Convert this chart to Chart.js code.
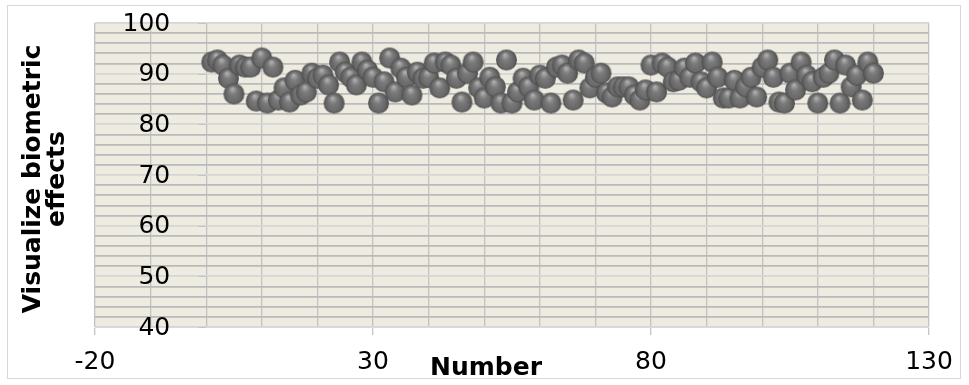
<!DOCTYPE html>
<html>
<head>
<meta charset="utf-8">
<script src="https://cdn.jsdelivr.net/npm/chart.js@4.4.0/dist/chart.umd.min.js"></script>
<style>
  body { margin: 0; background: #fff; }
  #wrap { width: 969px; height: 385px; }
</style>
</head>
<body>
<div id="wrap"><canvas id="effectsChart" width="969" height="385"></canvas></div>
<script>
// values, one per Number (1..120)
const effectValues = [
  92.3, 92.7, 91.7, 89.1, 86.0, 91.7, 91.3, 91.3, 84.6, 93.1,
  84.2, 91.3, 84.8, 87.2, 84.4, 88.7, 85.8, 86.4, 90.1, 89.1,
  89.7, 87.8, 84.2, 92.3, 90.3, 89.3, 87.8, 92.3, 90.7, 89.3,
  84.2, 88.4, 93.1, 86.4, 91.1, 89.3, 85.8, 90.3, 89.1, 89.3,
  92.1, 87.2, 92.3, 91.7, 89.1, 84.4, 90.1, 92.3, 87.2, 85.2,
  89.3, 87.4, 84.2, 92.7, 84.2, 86.4, 89.1, 87.4, 84.8, 89.7,
  89.1, 84.2, 91.3, 91.7, 90.1, 84.8, 92.7, 92.1, 87.2, 89.3,
  90.1, 86.2, 85.4, 87.4, 87.4, 87.4, 85.8, 84.8, 86.8, 91.7,
  86.4, 92.1, 91.3, 88.4, 88.7, 91.1, 89.3, 92.1, 88.4, 87.2,
  92.3, 89.3, 85.2, 85.2, 88.7, 85.2, 87.4, 89.3, 85.4, 91.3,
  92.7, 89.3, 84.4, 84.2, 90.1, 86.8, 92.3, 89.7, 88.4, 84.2,
  89.3, 90.1, 92.7, 84.2, 91.7, 87.4, 89.7, 84.8, 92.3, 90.1
];
const xTickLabels = [-20, 30, 80, 130];
const yTickLabels = [40, 50, 60, 70, 80, 90, 100];
const yAxisCrossesAt = 0;
const xTitle = 'Number';
const yTitleLines = ['Visualize biometric', 'effects'];

const points = effectValues.map((v, i) => ({ x: i + 1, y: v }));

// grey "3d" ball used as point style
function makeBall(r) {
  const cv = document.createElement('canvas');
  cv.width = cv.height = r * 2 + 2;
  const g = cv.getContext('2d');
  const c = r + 1;
  const grad = g.createRadialGradient(c - r * 0.15, c - r * 0.5, r * 0.05, c, c, r);
  grad.addColorStop(0, '#b0b0b0');
  grad.addColorStop(0.35, '#7c7c7c');
  grad.addColorStop(0.8, '#5f5f5f');
  grad.addColorStop(1, '#4a4a4a');
  g.fillStyle = grad;
  g.beginPath();
  g.arc(c, c, r, 0, Math.PI * 2);
  g.fill();
  const rim = g.createLinearGradient(0, c, 0, c + r);
  rim.addColorStop(0, 'rgba(160,160,160,0)');
  rim.addColorStop(1, 'rgba(160,160,160,0.3)');
  g.fillStyle = rim;
  g.beginPath();
  g.arc(c, c, r - 1, 0, Math.PI);
  g.fill();
  return cv;
}
const ball = makeBall(10.5);

const tickFont = '25px "DejaVu Sans"';
const titleFont = 'bold 25px "DejaVu Sans"';

const frameAndTitles = {
  id: 'frameAndTitles',
  beforeDraw(chart) {
    const c = chart.ctx;
    const a = chart.chartArea;
    c.save();
    c.fillStyle = '#fff';
    c.fillRect(0, 0, chart.width, chart.height);
    c.strokeStyle = '#d9d9d9';
    c.lineWidth = 1;
    c.strokeRect(7.5, 5.5, 953, 373);
    c.fillStyle = '#eeece1';
    c.fillRect(a.left, a.top, a.right - a.left, a.bottom - a.top);
    c.restore();
  },
  afterDraw(chart) {
    const c = chart.ctx;
    const xs = chart.scales.x;
    const ys = chart.scales.y;
    const ax = xs.getPixelForValue(yAxisCrossesAt);
    c.save();
    // y axis crosses at x = 0: tick marks and labels there
    c.strokeStyle = '#c4c4c4';
    c.lineWidth = 1;
    c.fillStyle = '#000';
    c.font = tickFont;
    c.textAlign = 'right';
    c.textBaseline = 'middle';
    yTickLabels.forEach(v => {
      const py = ys.getPixelForValue(v);
      c.beginPath();
      c.moveTo(ax - 8, Math.round(py) + 0.5);
      c.lineTo(ax, Math.round(py) + 0.5);
      c.stroke();
      c.fillText(String(v), ax - 36, py + 1);
    });
    c.font = titleFont;
    c.textAlign = 'center';
    c.fillText(xTitle, 486, 368);
    c.translate(0, 179);
    c.rotate(-Math.PI / 2);
    c.fillText(yTitleLines[0], 0, 33);
    c.fillText(yTitleLines[1], 0, 57);
    c.restore();
  }
};

new Chart(document.getElementById('effectsChart').getContext('2d'), {
  type: 'scatter',
  data: {
    datasets: [{
      label: 'effects',
      data: points,
      pointStyle: ball,
      pointRadius: 10,
      pointHoverRadius: 10
    }]
  },
  options: {
    responsive: false,
    animation: false,
    layout: { padding: { left: 95, right: 40, top: 23, bottom: 0 } },
    plugins: {
      legend: { display: false },
      tooltip: { enabled: false }
    },
    scales: {
      x: {
        type: 'linear',
        min: -20,
        max: 130,
        ticks: {
          stepSize: 10,
          autoSkip: false,
          maxRotation: 0,
          padding: 12,
          color: '#000',
          font: { family: 'DejaVu Sans', size: 25 },
          callback: v => xTickLabels.includes(v) ? v : ''
        },
        grid: {
          color: '#c2c2c2',
          lineWidth: 1.3,
          tickLength: 8,
          tickColor: ctx => xTickLabels.includes(ctx.tick && ctx.tick.value) ? '#c4c4c4' : 'rgba(0,0,0,0)'
        },
        border: { display: true, color: '#d9d9d9' },
        afterFit: s => { s.height = 58; s.paddingTop = 0; s.paddingBottom = 0; }
      },
      y: {
        type: 'linear',
        min: 40,
        max: 100,
        position: 'left',
        ticks: { stepSize: 2, autoSkip: false, display: false },
        grid: {
          color: ctx => yTickLabels.includes(ctx.tick && ctx.tick.value) ? '#d6d6d6' : '#bababa',
          lineWidth: 1.8,
          drawTicks: false
        },
        border: { display: false },
        afterFit: s => { s.width = 0; s.paddingTop = 0; s.paddingBottom = 0; }
      }
    }
  },
  plugins: [frameAndTitles]
});
</script>
</body>
</html>
